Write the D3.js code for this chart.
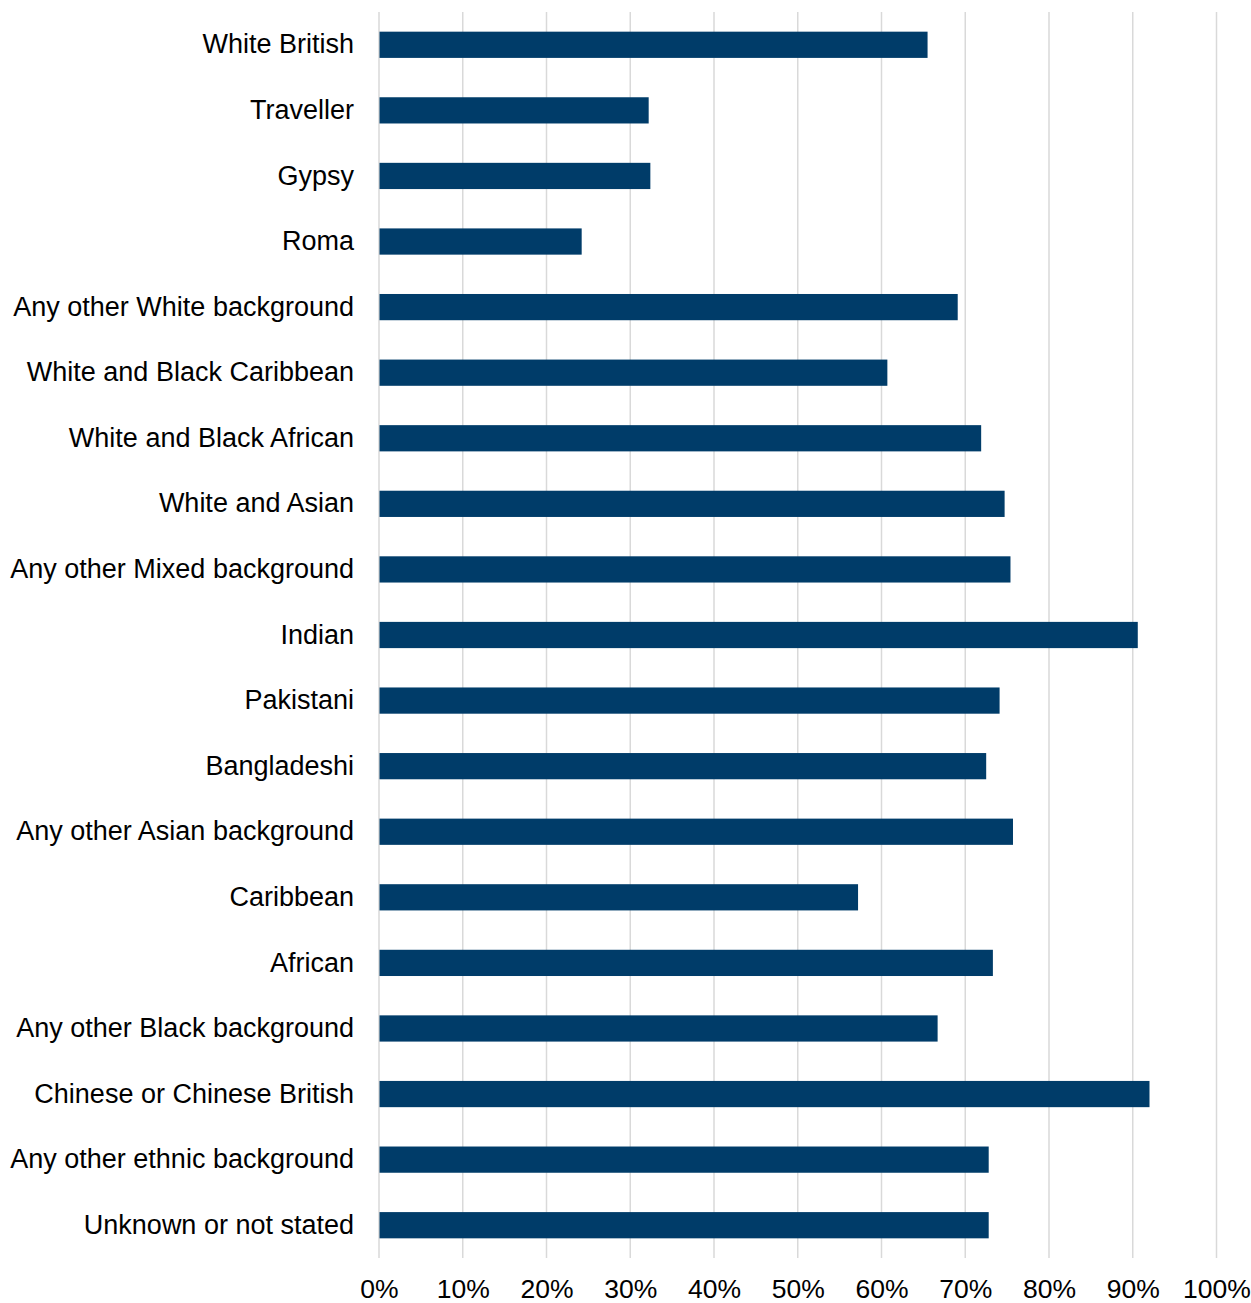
<!DOCTYPE html>
<html>
<head>
<meta charset="utf-8">
<script src="https://cdn.jsdelivr.net/npm/d3@7"></script>
<style>
  html, body { margin: 0; padding: 0; background: #ffffff; }
  svg { display: block; }
  text { font-family: "Liberation Sans", Arial, sans-serif; fill: #000000; }
</style>
</head>
<body>
<svg id="chart" width="1251" height="1303"></svg>
<script>
// Ethnic groups, top to bottom
const categories = [
  "White British",
  "Traveller",
  "Gypsy",
  "Roma",
  "Any other White background",
  "White and Black Caribbean",
  "White and Black African",
  "White and Asian",
  "Any other Mixed background",
  "Indian",
  "Pakistani",
  "Bangladeshi",
  "Any other Asian background",
  "Caribbean",
  "African",
  "Any other Black background",
  "Chinese or Chinese British",
  "Any other ethnic background",
  "Unknown or not stated"
];

// Percentage for each group
const values = [
  65.5, 32.2, 32.4, 24.2, 69.1, 60.7, 71.9, 74.7, 75.4, 90.6,
  74.1, 72.5, 75.7, 57.2, 73.3, 66.7, 92.0, 72.8, 72.8
];

// Axis ticks
const tickValues = [0, 10, 20, 30, 40, 50, 60, 70, 80, 90, 100];
const tickLabels = ["0%", "10%", "20%", "30%", "40%", "50%", "60%", "70%", "80%", "90%", "100%"];

const margin = { top: 12, right: 34.5, bottom: 45, left: 379 };
const width = 1251, height = 1303;
const innerW = width - margin.left - margin.right;
const innerH = height - margin.top - margin.bottom;

const svg = d3.select("#chart");
const g = svg.append("g").attr("transform", `translate(${margin.left},${margin.top})`);

const x = d3.scaleLinear().domain([0, 100]).range([0, innerW]);
const y = d3.scaleBand().domain(categories).range([0, innerH])
  .paddingInner(0.6).paddingOuter(0.3);

// Vertical gridlines
g.append("g").selectAll("line")
  .data(tickValues)
  .join("line")
  .attr("x1", d => x(d)).attr("x2", d => x(d))
  .attr("y1", 0).attr("y2", innerH)
  .attr("stroke", "#d9d9d9")
  .attr("stroke-width", 1.5);

// Bars
g.append("g").selectAll("rect")
  .data(categories)
  .join("rect")
  .attr("x", x(0) + 0.5)
  .attr("y", d => y(d))
  .attr("width", (d, i) => x(values[i]) - x(0) - 0.5)
  .attr("height", y.bandwidth())
  .attr("fill", "#003c69");

// Category labels
const yAxis = d3.axisLeft(y).tickSize(0).tickPadding(25);
g.append("g").call(yAxis)
  .call(s => s.select(".domain").remove())
  .selectAll("text")
  .style("font-size", "27px")
  .style("font-family", "'Liberation Sans', Arial, sans-serif")
  .attr("fill", "#000");

// Percentage axis labels
const xAxis = d3.axisBottom(x).tickValues(tickValues)
  .tickFormat((d, i) => tickLabels[i]).tickSize(0).tickPadding(21);
g.append("g").attr("transform", `translate(0,${innerH})`).call(xAxis)
  .call(s => s.select(".domain").remove())
  .selectAll("text")
  .style("font-size", "26.5px")
  .style("font-family", "'Liberation Sans', Arial, sans-serif")
  .attr("fill", "#000");
</script>
</body>
</html>
